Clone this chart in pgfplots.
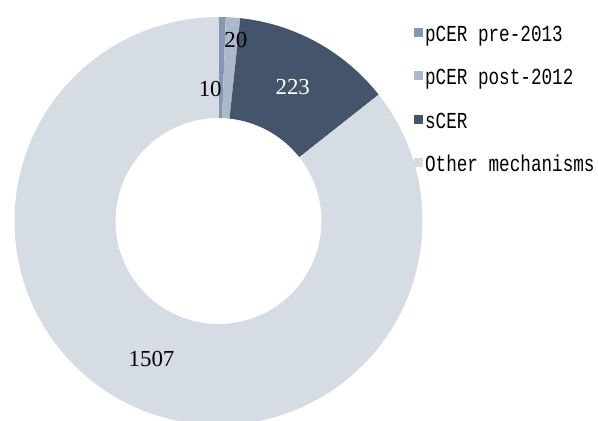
\documentclass[border=0pt]{standalone}
\usepackage{pgfplots}
\pgfplotsset{compat=1.18}
\usepackage{pgfplotstable}
\usepackage{fontspec}
\setmainfont{Liberation Serif}
\newfontfamily\legfont[FakeStretch=0.77]{Liberation Mono}

\definecolor{preC}{HTML}{8497B0}
\definecolor{postC}{HTML}{ADB9CA}
\definecolor{sC}{HTML}{44546A}
\definecolor{otherC}{HTML}{D6DCE4}

% issuance by mechanism
\pgfplotstableread{
name value
pre 10
post 20
s 223
other 1507
}\shares

% one ring segment: colour, start angle, end angle
\newcommand\ring[3]{%
  \fill[#1] ([shift={(axis cs:0,0)}]#2:204bp) arc[start angle=#2, end angle=#3, radius=204bp]
    -- ([shift={(axis cs:0,0)}]#3:103bp) arc[start angle=#3, end angle=#2, radius=103bp] -- cycle;}

\begin{document}
\begin{tikzpicture}
\pgfplotstablegetelem{0}{value}\of\shares \let\vA\pgfplotsretval
\pgfplotstablegetelem{1}{value}\of\shares \let\vB\pgfplotsretval
\pgfplotstablegetelem{2}{value}\of\shares \let\vC\pgfplotsretval
\pgfplotstablegetelem{3}{value}\of\shares \let\vD\pgfplotsretval
\pgfmathsetmacro{\tot}{\vA+\vB+\vC+\vD}
\pgfmathsetmacro{\aA}{90}
\pgfmathsetmacro{\aB}{\aA-(\vA/\tot)*360}
\pgfmathsetmacro{\aC}{\aB-(\vB/\tot)*360}
\pgfmathsetmacro{\aD}{\aC-(\vC/\tot)*360}
\pgfmathsetmacro{\aE}{\aD-(\vD/\tot)*360}
\pgfmathsetmacro{\mA}{(\aA+\aB)/2}
\pgfmathsetmacro{\mB}{(\aB+\aC)/2}
\pgfmathsetmacro{\mC}{(\aC+\aD)/2}
\pgfmathsetmacro{\mD}{(\aD+\aE)/2}
\begin{axis}[
  hide axis, scale only axis, clip=false,
  x=204bp, y=204bp,
  xmin=-1, xmax=1, ymin=-1, ymax=1,
  legend cell align=left,
  legend image code/.code={\fill[#1] (0bp,-1bp) rectangle (9bp,8bp);},
  legend style={draw=none, fill=none, at={(0.979,0.976)}, anchor=north west,
    font=\legfont\fontsize{23}{23}\selectfont, inner sep=0pt, row sep=25.3bp,
    nodes={inner xsep=2bp, inner ysep=0pt, text height=14.5bp, text depth=3.5bp}},
]
\ring{preC}{\aA}{\aB}
\ring{postC}{\aB}{\aC}
\ring{sC}{\aC}{\aD}
\ring{otherC}{\aD}{\aE}
\addlegendimage{fill=preC, draw=none}
\addlegendentry{pCER pre-2013}
\addlegendimage{fill=postC, draw=none}
\addlegendentry{pCER post-2012}
\addlegendimage{fill=sC, draw=none}
\addlegendentry{sCER}
\addlegendimage{fill=otherC, draw=none}
\addlegendentry{Other mechanisms}
\node[font=\fontsize{23}{23}\selectfont, xshift=-11bp, yshift=-21.5bp]
  at ([shift={(axis cs:0,0)}]\mA:153.5bp) {10};
\node[font=\fontsize{23}{23}\selectfont, xshift=6.5bp, yshift=28bp]
  at ([shift={(axis cs:0,0)}]\mB:153.5bp) {20};
\node[font=\fontsize{23}{23}\selectfont, text=white]
  at ([shift={(axis cs:0,0)}]\mC:153.5bp) {223};
\node[font=\fontsize{23}{23}\selectfont]
  at ([shift={(axis cs:0,0)}]\mD:153.5bp) {1507};
\coordinate (C) at (axis cs:0,0);
\end{axis}
\pgfresetboundingbox
\path[use as bounding box] ([shift={(-218.5bp,-200bp)}]C) rectangle ([shift={(379.5bp,221bp)}]C);
\end{tikzpicture}
\end{document}
